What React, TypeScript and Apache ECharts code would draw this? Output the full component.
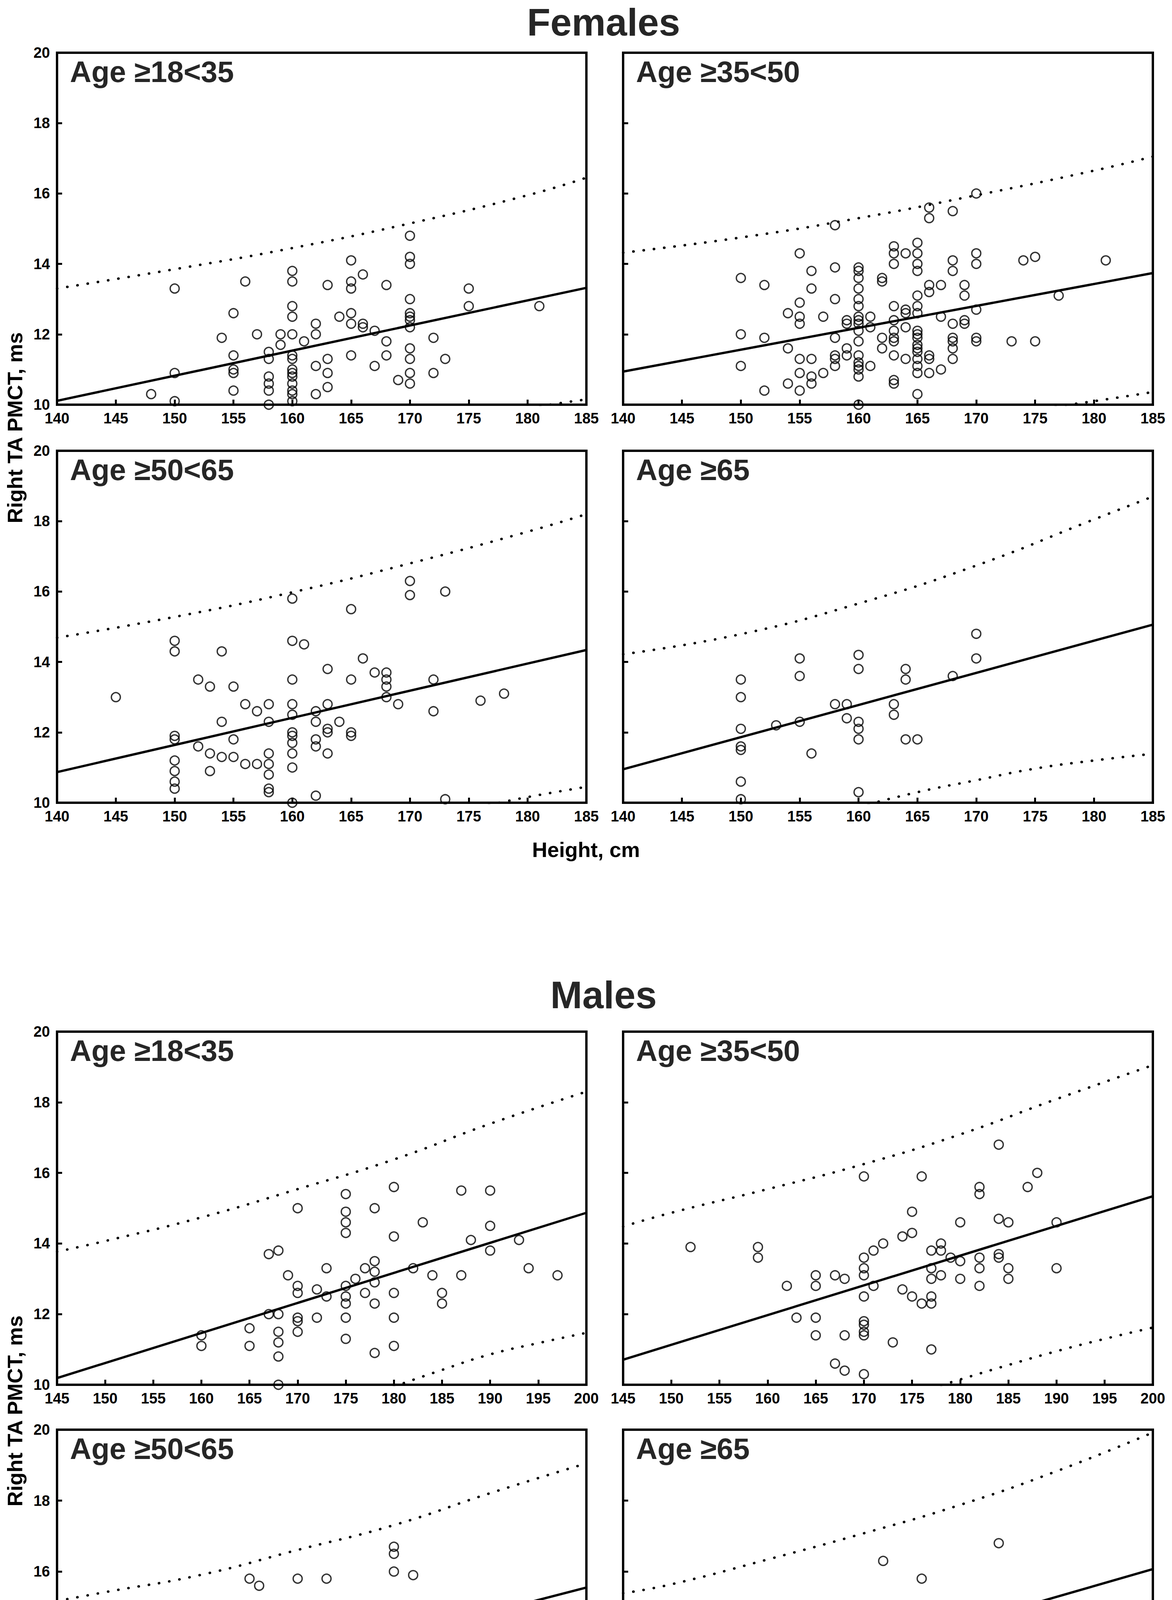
import React, { useEffect, useRef } from "react";
import * as echarts from "echarts";

// ---------------- DATA ----------------
const yTicks = [10, 12, 14, 16, 18, 20];
const femaleXRange = [140, 185];
const maleXRange = [145, 200];
const panelLabels = ["Age ≥18<35", "Age ≥35<50", "Age ≥50<65", "Age ≥65"];

// Females
const f1Points = [[150,13.3],[150,10.9],[150,10.1],[148,10.3],[154,11.9],[155,12.6],[155,11.4],[155,11.0],[155,10.9],[155,10.4],[156,13.5],[157,12.0],[158,11.5],[158,11.3],[158,10.8],[158,10.6],[158,10.4],[158,10.0],[159,12.0],[159,11.7],[160,13.8],[160,13.5],[160,12.8],[160,12.5],[160,12.0],[160,11.4],[160,11.3],[160,11.0],[160,10.9],[160,10.8],[160,10.6],[160,10.4],[160,10.3],[160,10.1],[161,11.8],[162,12.3],[162,12.0],[162,11.1],[162,10.3],[163,13.4],[163,11.3],[163,10.9],[163,10.5],[164,12.5],[165,14.1],[165,13.5],[165,13.3],[165,12.6],[165,12.3],[165,11.4],[166,13.7],[166,12.3],[166,12.2],[167,12.1],[167,11.1],[168,13.4],[168,11.8],[168,11.4],[169,10.7],[170,14.8],[170,14.2],[170,14.0],[170,13.0],[170,12.6],[170,12.5],[170,12.4],[170,12.2],[170,11.6],[170,11.3],[170,10.9],[170,10.6],[172,11.9],[172,10.9],[173,11.3],[175,13.3],[175,12.8],[181,12.8]];
const f1Fit = [[140,10.11],[185,13.32]];
const f1Upper = [[140,13.3],[150,13.85],[160,14.45],[170,15.15],[180,15.95],[185,16.45]];
const f1Lower = [[175,9.6],[180,9.9],[185,10.15]];

const f2Points = [[150,13.6],[150,12.0],[150,11.1],[152,13.4],[152,11.9],[152,10.4],[154,12.6],[154,11.6],[154,10.6],[155,14.3],[155,12.9],[155,12.5],[155,12.3],[155,11.3],[155,10.9],[155,10.4],[156,13.8],[156,13.3],[156,11.3],[156,10.8],[156,10.6],[157,12.5],[157,10.9],[158,15.1],[158,13.9],[158,13.0],[158,11.9],[158,11.4],[158,11.3],[158,11.1],[159,12.4],[159,12.3],[159,11.6],[159,11.4],[160,13.9],[160,13.8],[160,13.6],[160,13.3],[160,13.0],[160,12.8],[160,12.5],[160,12.4],[160,12.3],[160,12.1],[160,11.8],[160,11.4],[160,11.2],[160,11.1],[160,11.0],[160,10.8],[160,10.0],[161,12.5],[161,12.2],[161,11.1],[162,13.6],[162,13.5],[162,11.9],[162,11.6],[163,14.5],[163,14.3],[163,14.0],[163,12.8],[163,12.4],[163,12.1],[163,11.9],[163,11.8],[163,11.4],[163,10.7],[163,10.6],[164,14.3],[164,12.7],[164,12.6],[164,12.2],[164,11.3],[165,14.6],[165,14.3],[165,14.0],[165,13.8],[165,13.1],[165,12.8],[165,12.6],[165,12.1],[165,12.0],[165,11.9],[165,11.7],[165,11.6],[165,11.5],[165,11.3],[165,11.1],[165,10.9],[165,10.3],[166,15.6],[166,15.3],[166,13.4],[166,13.2],[166,11.4],[166,11.3],[166,10.9],[167,13.4],[167,12.5],[167,11.0],[168,15.5],[168,14.1],[168,13.8],[168,12.3],[168,11.9],[168,11.8],[168,11.6],[168,11.3],[169,13.4],[169,13.1],[169,12.4],[169,12.3],[170,16.0],[170,14.3],[170,14.0],[170,12.7],[170,11.9],[170,11.8],[173,11.8],[174,14.1],[175,14.2],[175,11.8],[177,13.1],[181,14.1]];
const f2Fit = [[140,10.94],[185,13.74]];
const f2Upper = [[140,14.32],[150,14.75],[160,15.3],[170,15.95],[180,16.65],[185,17.05]];
const f2Lower = [[175,9.87],[180,10.1],[185,10.36]];

const f3Points = [[145,13.0],[150,14.6],[150,14.3],[150,11.9],[150,11.8],[150,11.2],[150,10.9],[150,10.6],[150,10.4],[152,13.5],[152,11.6],[153,13.3],[153,11.4],[153,10.9],[154,14.3],[154,12.3],[154,11.3],[155,13.3],[155,11.8],[155,11.3],[156,12.8],[156,11.1],[157,12.6],[157,11.1],[158,12.8],[158,12.3],[158,11.4],[158,11.1],[158,10.8],[158,10.4],[158,10.3],[160,15.8],[160,14.6],[160,13.5],[160,12.8],[160,12.5],[160,12.0],[160,11.9],[160,11.7],[160,11.4],[160,11.0],[160,10.0],[161,14.5],[162,12.6],[162,12.3],[162,11.8],[162,11.6],[162,10.2],[163,13.8],[163,12.8],[163,12.1],[163,12.0],[163,11.4],[164,12.3],[165,15.5],[165,13.5],[165,12.0],[165,11.9],[166,14.1],[167,13.7],[168,13.7],[168,13.5],[168,13.3],[168,13.0],[169,12.8],[170,16.3],[170,15.9],[172,13.5],[172,12.6],[173,16.0],[173,10.1],[176,12.9],[178,13.1]];
const f3Fit = [[140,10.87],[185,14.34]];
const f3Upper = [[140,14.69],[150,15.28],[160,15.98],[170,16.8],[180,17.7],[185,18.2]];
const f3Lower = [[175,9.82],[180,10.16],[185,10.45]];

const f4Points = [[150,13.5],[150,13.0],[150,12.1],[150,11.6],[150,11.5],[150,10.6],[150,10.1],[153,12.2],[155,14.1],[155,13.6],[155,12.3],[156,11.4],[158,12.8],[159,12.8],[159,12.4],[160,14.2],[160,13.8],[160,12.3],[160,12.1],[160,11.8],[160,10.3],[163,12.8],[163,12.5],[164,13.8],[164,13.5],[164,11.8],[165,11.8],[168,13.6],[170,14.8],[170,14.1]];
const f4Fit = [[140,10.95],[185,15.06]];
const f4Upper = [[140,14.22],[150,14.79],[160,15.66],[170,16.74],[180,18.05],[185,18.7]];
const f4Lower = [[160,9.88],[165,10.3],[170,10.64],[175,10.97],[180,11.2],[185,11.39]];

// Males
const m1Points = [[160,11.4],[160,11.1],[165,11.6],[165,11.1],[167,13.7],[168,13.8],[167,12.0],[168,12.0],[168,11.5],[168,11.2],[168,10.8],[168,10.0],[169,13.1],[170,15.0],[170,12.8],[170,12.6],[170,11.9],[170,11.8],[170,11.5],[172,12.7],[172,11.9],[173,13.3],[173,12.5],[175,15.4],[175,14.9],[175,14.6],[175,14.3],[175,12.8],[175,12.5],[175,12.3],[175,11.9],[175,11.3],[176,13.0],[177,13.3],[177,12.6],[178,15.0],[178,13.5],[178,13.2],[178,12.9],[178,12.3],[178,10.9],[180,15.6],[180,14.2],[180,12.6],[180,11.9],[180,11.1],[182,13.3],[183,14.6],[184,13.1],[185,12.6],[185,12.3],[187,15.5],[187,13.1],[188,14.1],[190,15.5],[190,14.5],[190,13.8],[193,14.1],[194,13.3],[197,13.1]];
const m1Fit = [[145,10.19],[200,14.87]];
const m1Upper = [[145,13.77],[150,14.07],[160,14.74],[170,15.54],[180,16.38],[190,17.39],[200,18.3]];
const m1Lower = [[179,9.85],[185,10.42],[190,10.86],[195,11.18],[200,11.47]];

const m2Points = [[152,13.9],[159,13.9],[159,13.6],[162,12.8],[163,11.9],[165,13.1],[165,12.8],[165,11.9],[165,11.4],[167,13.1],[167,10.6],[168,13.0],[168,11.4],[168,10.4],[170,15.9],[170,13.6],[170,13.3],[170,13.1],[170,12.5],[170,11.8],[170,11.7],[170,11.5],[170,11.4],[170,10.3],[171,13.8],[171,12.8],[172,14.0],[173,11.2],[174,14.2],[174,12.7],[175,14.9],[175,14.3],[175,12.5],[176,15.9],[176,12.3],[177,13.8],[177,13.3],[177,13.0],[177,12.5],[177,12.3],[177,11.0],[178,14.0],[178,13.8],[178,13.1],[179,13.6],[180,14.6],[180,13.5],[180,13.0],[182,15.6],[182,15.4],[182,13.6],[182,13.3],[182,12.8],[184,16.8],[184,14.7],[184,13.7],[184,13.6],[185,14.6],[185,13.3],[185,13.0],[187,15.6],[188,16.0],[190,14.6],[190,13.3]];
const m2Fit = [[145,10.71],[200,15.34]];
const m2Upper = [[145,14.48],[150,14.87],[160,15.54],[170,16.25],[180,17.09],[190,18.09],[200,19.05]];
const m2Lower = [[177,9.9],[180,10.15],[185,10.56],[190,10.95],[195,11.3],[200,11.62]];

const m3Points = [[159,12.7],[160,13.0],[160,12.6],[160,12.3],[160,12.1],[160,11.6],[161,14.0],[162,13.6],[162,11.4],[165,15.8],[165,14.6],[165,13.8],[165,13.6],[165,13.3],[165,13.1],[165,12.6],[166,15.6],[167,14.6],[167,13.9],[167,13.8],[167,13.0],[167,12.8],[167,12.5],[167,12.3],[167,12.1],[168,12.3],[168,12.0],[168,11.9],[169,12.6],[170,15.8],[170,14.6],[170,13.8],[170,13.7],[170,12.9],[170,12.6],[170,11.8],[171,14.3],[171,13.6],[171,13.3],[171,12.3],[172,14.7],[172,14.0],[172,12.9],[172,11.9],[172,11.8],[173,15.8],[174,12.3],[175,14.1],[175,13.8],[175,13.7],[175,13.6],[177,13.8],[177,12.9],[178,14.9],[178,12.8],[179,11.9],[180,16.7],[180,16.5],[180,16.0],[180,14.7],[180,13.8],[180,12.8],[180,12.3],[182,15.9],[183,14.5],[184,14.1],[190,14.4]];
const m3Fit = [[145,11.69],[200,15.55]];
const m3Upper = [[145,15.17],[150,15.42],[160,15.91],[170,16.61],[180,17.31],[190,18.21],[200,19.05]];
const m3Lower = [[165,9.92],[170,10.29],[175,10.62],[180,11.02],[185,11.29],[190,11.59],[195,11.83],[200,12.03]];

const m4Points = [[150,10.4],[154,12.1],[155,15.0],[155,13.5],[158,12.5],[160,14.8],[160,14.0],[160,13.8],[160,11.6],[161,13.4],[161,12.8],[161,12.0],[161,11.1],[162,12.2],[164,12.8],[165,14.7],[165,14.4],[165,14.2],[165,13.1],[165,12.8],[169,14.3],[170,14.8],[170,14.0],[170,13.3],[170,12.8],[170,12.6],[170,12.0],[172,16.3],[172,12.8],[174,12.0],[175,13.8],[175,13.2],[176,15.8],[178,14.4],[178,14.2],[180,14.6],[182,13.6],[183,14.5],[184,16.8]];
const m4Fit = [[145,11.76],[200,16.07]];
const m4Upper = [[145,15.39],[150,15.64],[160,16.34],[170,17.08],[180,17.88],[190,18.83],[200,19.92]];
const m4Lower = [[165,9.96],[170,10.39],[175,10.76],[180,11.09],[185,11.42],[190,11.73],[195,11.96],[200,12.18]];

// ---------------- LAYOUT ----------------
const FONT = '"Liberation Sans", Arial, Helvetica, sans-serif';
const colLeft = [146, 1595];
const colWidth = [1355, 1356];
const rowTop = [135, 1154, 2641, 3660];
const rowHeight = [901, 901, 904, 908];

type Panel = {
  points: number[][]; fit: number[][]; upper: number[][]; lower: number[][];
  xr: number[]; row: number; col: number; label: string;
};

const panels: Panel[] = [
  { points: f1Points, fit: f1Fit, upper: f1Upper, lower: f1Lower, xr: femaleXRange, row: 0, col: 0, label: panelLabels[0] },
  { points: f2Points, fit: f2Fit, upper: f2Upper, lower: f2Lower, xr: femaleXRange, row: 0, col: 1, label: panelLabels[1] },
  { points: f3Points, fit: f3Fit, upper: f3Upper, lower: f3Lower, xr: femaleXRange, row: 1, col: 0, label: panelLabels[2] },
  { points: f4Points, fit: f4Fit, upper: f4Upper, lower: f4Lower, xr: femaleXRange, row: 1, col: 1, label: panelLabels[3] },
  { points: m1Points, fit: m1Fit, upper: m1Upper, lower: m1Lower, xr: maleXRange, row: 2, col: 0, label: panelLabels[0] },
  { points: m2Points, fit: m2Fit, upper: m2Upper, lower: m2Lower, xr: maleXRange, row: 2, col: 1, label: panelLabels[1] },
  { points: m3Points, fit: m3Fit, upper: m3Upper, lower: m3Lower, xr: maleXRange, row: 3, col: 0, label: panelLabels[2] },
  { points: m4Points, fit: m4Fit, upper: m4Upper, lower: m4Lower, xr: maleXRange, row: 3, col: 1, label: panelLabels[3] },
];

function buildOption() {
  const grid: any[] = [];
  const xAxis: any[] = [];
  const yAxis: any[] = [];
  const series: any[] = [];
  const graphic: any[] = [];

  panels.forEach((p, i) => {
    grid.push({
      left: colLeft[p.col], top: rowTop[p.row], width: colWidth[p.col], height: rowHeight[p.row],
      show: true, borderColor: "#000", borderWidth: 6, backgroundColor: "rgba(0,0,0,0)",
    });
    xAxis.push({
      gridIndex: i, type: "value", min: p.xr[0], max: p.xr[1], interval: 5,
      axisLine: { show: false },
      axisTick: { show: true, inside: true, length: 13, lineStyle: { color: "#000", width: 5 } },
      splitLine: { show: false },
      axisLabel: {
        show: true, margin: 16, fontSize: 38, fontWeight: "bold", color: "#000", fontFamily: FONT,
        showMinLabel: true, showMaxLabel: true,
      },
    });
    yAxis.push({
      gridIndex: i, type: "value", min: yTicks[0], max: yTicks[yTicks.length - 1], interval: 2,
      axisLine: { show: false },
      axisTick: { show: true, inside: true, length: 13, lineStyle: { color: "#000", width: 5 } },
      splitLine: { show: false },
      axisLabel: {
        show: p.col === 0, margin: 18, fontSize: 38, fontWeight: "bold", color: "#000", fontFamily: FONT,
        showMinLabel: true, showMaxLabel: true,
      },
    });
    series.push({
      type: "scatter", xAxisIndex: i, yAxisIndex: i, data: p.points, symbol: "circle", symbolSize: 23,
      itemStyle: { color: "rgba(255,255,255,0)", borderColor: "#000", borderWidth: 3.5 }, silent: true, z: 3,
    });
    series.push({
      type: "line", xAxisIndex: i, yAxisIndex: i, data: p.fit, symbol: "none", showSymbol: false,
      lineStyle: { color: "#000", width: 6 }, silent: true, clip: true, z: 2,
    });
    [p.upper, p.lower].forEach((d) => {
      series.push({
        type: "line", xAxisIndex: i, yAxisIndex: i, data: d, symbol: "none", showSymbol: false, smooth: true,
        lineStyle: { color: "#000", width: 6.5, type: [0.5, 26], cap: "round" }, silent: true, clip: true, z: 2,
      });
    });
    graphic.push({
      type: "text", x: colLeft[p.col] + 33, y: rowTop[p.row] + 48,
      style: { text: p.label, fill: "#262626", fontSize: 76, fontWeight: "bold", fontFamily: FONT, align: "left", verticalAlign: "middle" },
      z: 10,
    });
  });

  const titleStyle = (text: string) => ({ text, fill: "#262626", fontSize: 98, fontWeight: "bold", fontFamily: FONT, align: "center", verticalAlign: "middle" });
  graphic.push({ type: "text", x: 1545, y: 57, style: titleStyle("Females") });
  graphic.push({ type: "text", x: 1545, y: 2547, style: titleStyle("Males") });

  const axTitle = (text: string) => ({ text, fill: "#000", fontSize: 54, fontWeight: "bold", fontFamily: FONT, align: "center", verticalAlign: "middle" });
  graphic.push({ type: "text", x: 1500, y: 2175, style: axTitle("Height, cm") });
  graphic.push({ type: "text", x: 1500, y: 4682, style: axTitle("Height, cm") });
  graphic.push({ type: "text", x: 38, y: 1095, rotation: Math.PI / 2, style: axTitle("Right TA PMCT, ms") });
  graphic.push({ type: "text", x: 38, y: 3612, rotation: Math.PI / 2, style: axTitle("Right TA PMCT, ms") });

  return {
    animation: false,
    backgroundColor: "#fff",
    textStyle: { fontFamily: FONT },
    grid, xAxis, yAxis, series, graphic,
  };
}

export default function App() {
  const ref = useRef<HTMLDivElement>(null);
  useEffect(() => {
    document.body.style.margin = "0";
    if (!ref.current) return;
    const chart = echarts.init(ref.current, null, { renderer: "svg" });
    chart.setOption(buildOption() as any);
    return () => chart.dispose();
  }, []);
  return <div ref={ref} style={{ width: 3000, height: 4720 }} />;
}
